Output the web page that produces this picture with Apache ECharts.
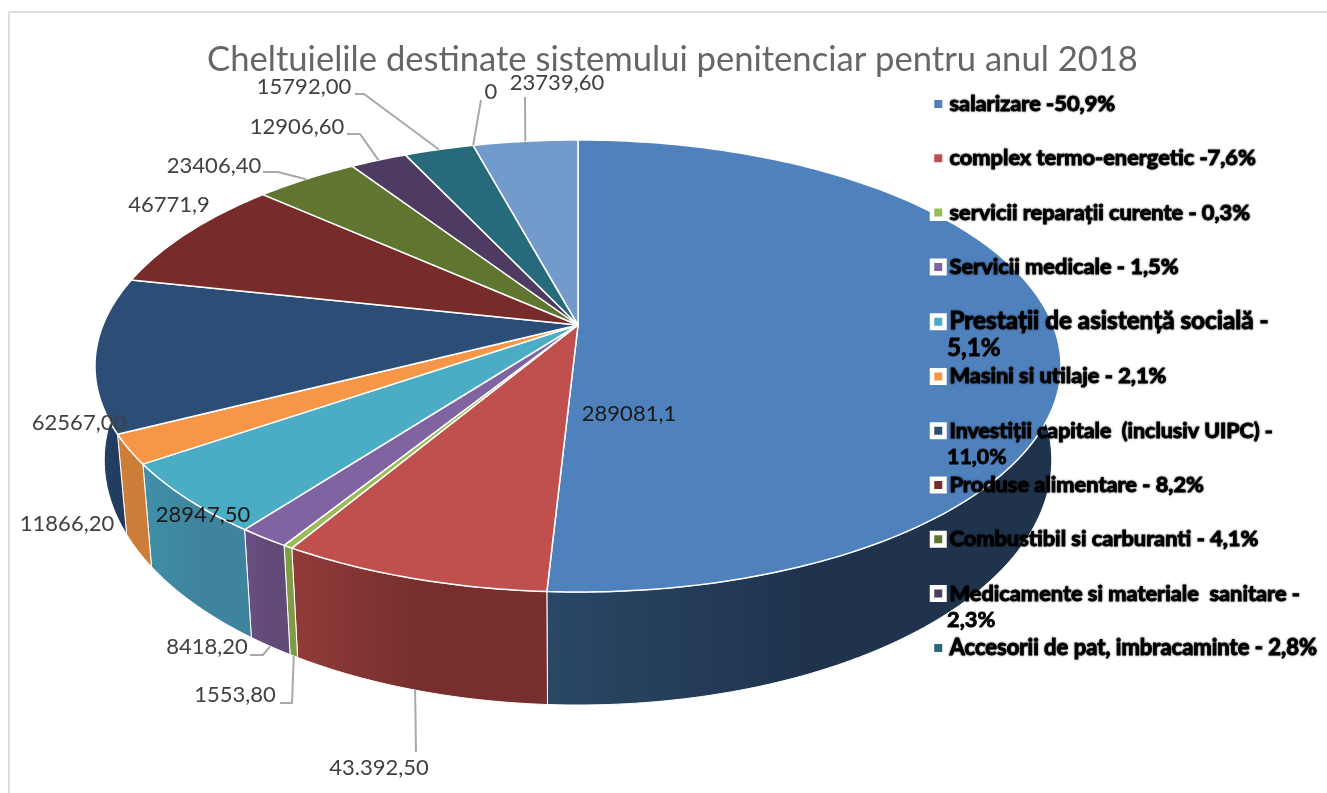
<!DOCTYPE html>
<html><head><meta charset="utf-8">
<style>html,body{margin:0;padding:0;background:#fff}#c{width:1327px;height:793px}</style>
<script src="https://cdn.jsdelivr.net/npm/echarts@6/dist/echarts.min.js"></script>
</head><body><div id="c"></div>
<script>
const titleText = 'Cheltuielile destinate sistemului penitenciar pentru anul 2018';
const legendNames = [
  'salarizare -50,9%',
  'complex termo-energetic -7,6%',
  'servicii reparații curente - 0,3%',
  'Servicii medicale - 1,5%',
  'Prestații de asistență socială -',
  'Masini si utilaje - 2,1%',
  'Investiții capitale  (inclusiv UIPC) -',
  'Produse alimentare - 8,2%',
  'Combustibil si carburanti - 4,1%',
  'Medicamente si materiale  sanitare -',
  'Accesorii de pat, imbracaminte - 2,8%'
];
const legendFontSizes = [21.8, 21.8, 21.8, 21.8, 24.3, 21.8, 21.4, 21.8, 21.8, 21.8, 22];
const legendWrapped = ['', '', '', '', '5,1%', '', '11,0%', '', '', '2,3%', ''];
const hiddenNames = ['rezervă', 'alte cheltuieli'];
const values = [289081.1, 43392.5, 1553.8, 8418.2, 28947.5, 11866.2, 62567, 46771.9, 23406.4, 12906.6, 15792, 0, 23739.6];
const valueLabels = ['289081,1', '43.392,50', '1553,80', '8418,20', '28947,50', '11866,20', '62567,00', '46771,9', '23406,40', '12906,60', '15792,00', '0', '23739,60'];
const topColors = ['#4f81bd', '#c0504d', '#9bbb59', '#8064a2', '#4bacc6', '#f79646', '#2c4d75', '#772c2a', '#5f7530', '#4d3b62', '#276a7c', '#729aca', '#729aca'];
const wallFrom = ['#2a4866', '#913b39', '#7f9c44', '#6a5084', '#3f90a8', '#d08038', '#24416a', '#5f2322', '#4c5e26', '#3e2f4e', '#1f5563', '#5b7ba1', '#5b7ba1'];
const wallTo = ['#1f334d', '#762f2d', '#7f9c44', '#614a78', '#3f849e', '#cc7d37', '#223c5e', '#5f2322', '#4c5e26', '#3e2f4e', '#1f5563', '#5b7ba1', '#5b7ba1'];
// label text centre [x, y], and leader bend points (leader begins on the slice edge)
const labelPlace = [[629,414],[379,768],[235,695],[207,647],[203,515],[67,524],[79,423],[169,205],[214,166],[297,127],[304,87],[491,92],[557,83]];
const leaderBends = [null,[[416,752]],[[292,703],[280,703]],[[263,655],[250,655]],null,null,null,null,[[278,172],[263,172]],[[360,134],[347,134]],[[364,94],[355,94]],[[481,100]],[[525,97]]];
const leaderOnBase = [false,true,true,true,false,false,false,false,false,false,false,false,false];
const darkLabel = [true,false,false,false,true,false,false,false,false,false,false,false,false];

const total = values.reduce((a, b) => a + b, 0);
const starts = []; values.reduce((a, v, i) => (starts[i] = a, a + v), 0);
const topRing = {cx: 578, a: 475, cy: 325, b: 218.6, k: 0.1814};
const baseRing = {cx: 578, a: 466, cy: 416, b: 237, k: 0.18};
function proj(ring, frac) {
  const t = frac * 2 * Math.PI, x = Math.sin(t), y = Math.cos(t), d = 1 + ring.k * y;
  return [ring.cx + ring.a * x / d, ring.cy - ring.b * y / d];
}
function arc(ring, f0, f1) {
  const n = Math.max(2, Math.ceil((f1 - f0) * 360)), pts = [];
  for (let i = 0; i <= n; i++) pts.push(proj(ring, f0 + (f1 - f0) * i / n));
  return pts;
}
function renderSlice(params, api) {
  const i = params.seriesIndex, v = api.value(0);
  const f0 = starts[i] / total, f1 = f0 + v / total, mid = (f0 + f1) / 2;
  const children = [];
  if (v > 0) {
    const rimTop = arc(topRing, f0, f1), rimBase = arc(baseRing, f0, f1);
    children.push({
      type: 'polygon', z2: 1, silent: true,
      shape: {points: rimTop.concat(rimBase.slice().reverse())},
      style: {
        fill: new echarts.graphic.LinearGradient(0, 0, 1, 0, [
          {offset: 0, color: wallFrom[i]}, {offset: 0.5, color: wallTo[i]}, {offset: 1, color: wallTo[i]}]),
        stroke: '#fff', lineWidth: 1
      }
    });
    children.push({
      type: 'polygon', z2: 2, silent: true,
      shape: {points: [[topRing.cx, topRing.cy]].concat(rimTop)},
      style: {fill: topColors[i], stroke: '#fff', lineWidth: 1.5, lineJoin: 'round'}
    });
  }
  const bends = leaderBends[i];
  if (bends) {
    children.push({
      type: 'polyline', z2: 3, silent: true,
      shape: {points: [proj(leaderOnBase[i] ? baseRing : topRing, mid)].concat(bends)},
      style: {fill: 'none', stroke: '#a9a9a9', lineWidth: 2}
    });
  }
  children.push({
    type: 'text', z2: 4, silent: true,
    style: {
      text: valueLabels[i], x: labelPlace[i][0], y: labelPlace[i][1],
      align: 'center', verticalAlign: 'middle',
      font: '22px Lato', fill: darkLabel[i] ? '#1a1a1a' : '#404040'
    }
  });
  return {type: 'group', children};
}
const allNames = legendNames.concat(hiddenNames);
const series = values.map((v, i) => ({
  type: 'custom', name: allNames[i], renderItem: renderSlice, silent: true,
  coordinateSystem: 'none', data: [[v]], itemStyle: {color: topColors[i]}, animation: false, clip: false
}));
const legendTop = 92, legendStep = 54.3, legendLine = 24;
const legendTextStyle = {
  fontFamily: 'Lato', fontWeight: 'bold', color: '#000', lineHeight: legendLine,
  textBorderColor: '#000', textBorderWidth: 0.9,
  textShadowColor: 'rgba(0,0,0,0.6)', textShadowBlur: 2
};
const wrappedRows = legendWrapped.map((t, i) => t ? {
  type: 'text', silent: true, z: 11,
  style: {
    text: t, x: 947, y: legendTop + legendLine / 2 + legendStep * i + 27, align: 'left', verticalAlign: 'middle',
    font: 'bold ' + legendFontSizes[i] + 'px Lato', fill: '#000',
    stroke: '#000', lineWidth: 0.9, shadowColor: 'rgba(0,0,0,0.6)', shadowBlur: 2
  }
} : null).filter(Boolean);
const chart = echarts.init(document.getElementById('c'), null, {renderer: 'canvas'});
chart.setOption({
  animation: false,
  backgroundColor: '#fff',
  title: {
    text: titleText, left: 667.5, top: 37, textAlign: 'center',
    textStyle: {fontFamily: 'Lato', fontWeight: 400, fontSize: 34.6, color: '#666666'}
  },
  legend: {
    data: legendNames.map((name, i) => ({name, textStyle: {fontSize: legendFontSizes[i]}})),
    orient: 'vertical', left: 929.75, top: legendTop, padding: 0,
    itemWidth: 12.5, itemHeight: 12.5, itemGap: legendStep - legendLine, icon: 'rect', selectedMode: false, z: 10,
    itemStyle: {borderColor: '#fff', borderWidth: 4.5},
    textStyle: Object.assign({fontSize: 21.8}, legendTextStyle)
  },
  graphic: [
    {type: 'line', silent: true, shape: {x1: 9, y1: 12, x2: 1327, y2: 12}, style: {stroke: '#dedede', lineWidth: 2}},
    {type: 'line', silent: true, shape: {x1: 9, y1: 12, x2: 9, y2: 793}, style: {stroke: '#dedede', lineWidth: 2}}
  ].concat(wrappedRows),
  series
});
</script></body></html>
